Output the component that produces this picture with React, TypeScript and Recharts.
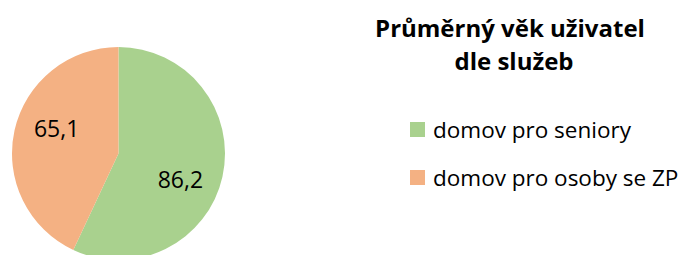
import React from "react";
import { PieChart, Pie, Cell, Legend } from "recharts";

const categories = ["domov pro seniory", "domov pro osoby se ZP"];
const values = [86.2, 65.1];
const colors = ["#A9D18E", "#F4B183"];
const titleLines = ["Průměrný věk uživatel", "dle služeb"];

const data = categories.map((name, i) => ({ name, value: values[i] }));

const FONT = "'Open Sans', 'Noto Sans', sans-serif";
const RAD = Math.PI / 180;

const renderLabel = (props: any) => {
  const { cx, cy, midAngle, outerRadius, value } = props;
  const r = outerRadius * 0.627;
  const a = midAngle - 9.5;
  const x = cx + r * Math.cos(-a * RAD);
  const y = cy + r * Math.sin(-a * RAD);
  return (
    <text
      x={x}
      y={y}
      fill="#000"
      textAnchor="middle"
      dominantBaseline="central"
      style={{ fontFamily: FONT, fontSize: 23 }}
    >
      {Number(value).toFixed(1).replace(".", ",")}
    </text>
  );
};

const renderLegend = (props: any) => {
  const payload: any[] = props.payload || [];
  const items = categories.map((name, i) => {
    const p = payload.find((q: any) => q.value === name);
    return { name, color: (p && p.color) || colors[i] };
  });
  return (
    <div style={{ fontFamily: FONT, color: "#000" }}>
      <div
        style={{
          textAlign: "center",
          fontWeight: 700,
          fontSize: 24,
          lineHeight: "33px",
          marginTop: 11,
          whiteSpace: "nowrap",
        }}
      >
        {titleLines.map((t, i) => (
          <div key={t} style={{ paddingRight: i === 0 ? 8 : 0 }}>{t}</div>
        ))}
      </div>
      <div style={{ marginTop: 28, marginLeft: 40 }}>
        {items.map((p, i) => (
          <div
            key={i}
            style={{
              display: "flex",
              alignItems: "center",
              height: 48,
              fontSize: 22.5,
              whiteSpace: "nowrap",
            }}
          >
            <span
              style={{
                display: "inline-block",
                width: 15,
                height: 15,
                background: p.color,
                marginRight: 8,
                flexShrink: 0,
              }}
            />
            <span>{p.name}</span>
          </div>
        ))}
      </div>
    </div>
  );
};

export default function App() {
  return (
    <div style={{ position: "absolute", left: 0, top: 0, width: 686, height: 255, background: "#fff" }}>
      <PieChart width={686} height={255} margin={{ top: 0, right: 0, bottom: 0, left: 0 }}>
        <Pie
          data={data}
          dataKey="value"
          nameKey="name"
          cx={118.5}
          cy={153.5}
          outerRadius={106.5}
          startAngle={90}
          endAngle={-270}
          stroke="none"
          label={renderLabel}
          labelLine={false}
          isAnimationActive={false}
        >
          {data.map((d, i) => (
            <Cell key={d.name} fill={colors[i]} />
          ))}
        </Pie>
        <Legend
          layout="vertical"
          align="right"
          verticalAlign="top"
          content={renderLegend}
          wrapperStyle={{ left: 370, top: 0, width: 288 }}
        />
      </PieChart>
    </div>
  );
}
